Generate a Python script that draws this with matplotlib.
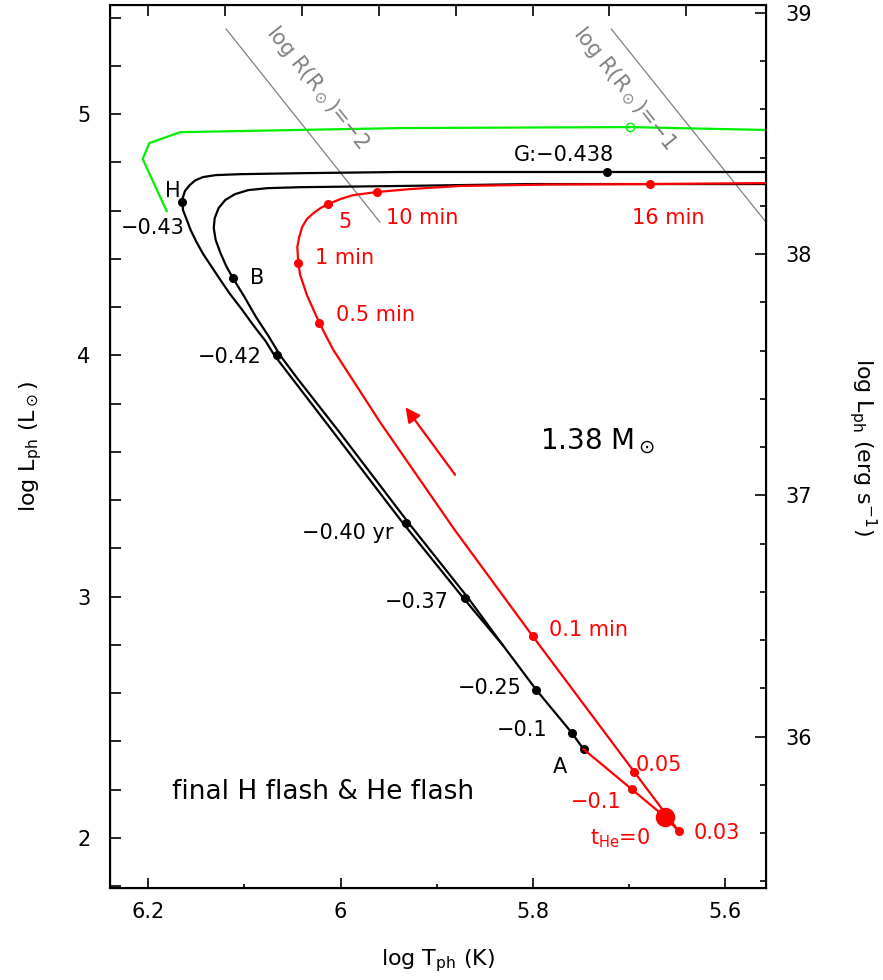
"""
HR-diagram style plot: final H flash & He flash track of a 1.38 Msun model
"""
import numpy as np
import matplotlib.pyplot as plt
from matplotlib.ticker import MultipleLocator, FixedLocator

# =============================
#  Data (log T_ph [K], log L_ph [Lsun])
# =============================
# green track
green_logT = [6.181, 6.206, 6.199, 6.167, 5.938, 5.699, 5.556]
green_logL = [4.598, 4.814, 4.880, 4.925, 4.942, 4.946, 4.934]
green_mark_logT = [5.699]
green_mark_logL = [4.946]

# black track through G and H (outer)
outer_logT = [5.557, 5.723, 5.938, 6.042, 6.104, 6.130, 6.143, 6.151, 6.157, 6.162,
              6.165, 6.164, 6.160, 6.156, 6.150, 6.143, 6.134, 6.125, 6.115, 6.103,
              6.091, 6.078, 6.069, 6.010, 5.935, 5.872, 5.831, 5.796, 5.759, 5.747]
outer_logL = [4.760, 4.760, 4.760, 4.755, 4.751, 4.747, 4.739, 4.726, 4.706, 4.681,
              4.644, 4.602, 4.561, 4.519, 4.470, 4.420, 4.366, 4.312, 4.254, 4.192,
              4.126, 4.059, 4.001, 3.695, 3.305, 2.994, 2.799, 2.613, 2.435, 2.368]

# black track through B (inner)
inner_logT = [5.557, 5.803, 5.938, 6.042, 6.076, 6.096, 6.110, 6.120, 6.127, 6.131,
              6.132, 6.130, 6.125, 6.119, 6.112, 6.100, 6.088, 6.075, 6.063, 6.046,
              6.002, 5.929, 5.867, 5.831]
inner_logL = [4.710, 4.710, 4.702, 4.697, 4.693, 4.685, 4.668, 4.644, 4.610, 4.569,
              4.528, 4.478, 4.424, 4.370, 4.320, 4.242, 4.159, 4.080, 4.001, 3.910,
              3.686, 3.305, 2.994, 2.799]

# black time marks
black_dot_logT = [5.723, 6.165, 6.112, 6.066, 5.932, 5.870, 5.796, 5.759, 5.747]
black_dot_logL = [4.760, 4.635, 4.320, 4.001, 3.305, 2.994, 2.613, 2.435, 2.368]

# red track (He flash), starting at A
red_logT = [5.747, 5.697, 5.662, 5.648, 5.694, 5.800, 5.881, 5.959, 5.975, 5.992,
            6.008, 6.022, 6.035, 6.042, 6.044, 6.045, 6.043, 6.040, 6.035, 6.028,
            6.021, 6.013, 6.000, 5.987, 5.962, 5.928, 5.876, 5.782, 5.678, 5.557]
red_logL = [2.368, 2.203, 2.087, 2.029, 2.273, 2.837, 3.276, 3.724, 3.823, 3.927,
            4.026, 4.134, 4.250, 4.333, 4.383, 4.449, 4.490, 4.532, 4.565, 4.590,
            4.610, 4.627, 4.648, 4.664, 4.677, 4.689, 4.702, 4.708, 4.710, 4.714]

# red time marks: -0.1, 0.03, 0.05, 0.1, 0.5, 1, 5, 10, 16 min
red_dot_logT = [5.697, 5.648, 5.694, 5.800, 6.022, 6.044, 6.013, 5.962, 5.678]
red_dot_logL = [2.203, 2.029, 2.273, 2.837, 4.134, 4.383, 4.627, 4.677, 4.710]
he_start_logT = [5.662]
he_start_logL = [2.087]

# constant-radius lines
rad_m2_logT = [6.119, 5.959]
rad_m2_logL = [5.352, 4.552]
rad_m1_logT = [5.718, 5.558]
rad_m1_logL = [5.352, 4.557]

# direction arrow (tail -> head)
arrow_logT = [5.879, 5.934]
arrow_logL = [3.496, 3.794]

# labels: (text, logT, logL)
black_labels = [
    ("G:−0.438", 5.767, 4.830),
    ("H", 6.175, 4.681),
    ("−0.43", 6.196, 4.528),
    ("B", 6.087, 4.320),
    ("−0.42", 6.115, 3.995),
    ("−0.40 yr", 5.993, 3.264),
    ("−0.37", 5.921, 2.978),
    ("−0.25", 5.845, 2.621),
    ("−0.1", 5.811, 2.447),
    ("A", 5.772, 2.294),
]
red_labels = [
    ("5", 5.995, 4.552),
    ("10 min", 5.915, 4.569),
    ("16 min", 5.659, 4.569),
    ("1 min", 5.996, 4.403),
    ("0.5 min", 5.964, 4.167),
    ("0.1 min", 5.742, 2.862),
    ("0.05", 5.669, 2.302),
    ("−0.1", 5.734, 2.149),
    (r"t$_{\rm He}$=0", 5.709, 2.000),
    ("0.03", 5.608, 2.020),
]

LOG_LSUN = 33.58  # log10(Lsun / erg s^-1)
XLIM = (6.24, 5.557)
YLIM = (1.793, 5.452)
top_ticks = [6.2, 6.12, 6.04, 5.96, 5.88, 5.80, 5.72, 5.64]

RED = "#ff0000"
GREEN = "#00f000"
GRAY = "#808080"

# =============================
#  Figure
# =============================
fig = plt.figure(figsize=(8.83, 9.8), dpi=100)
ax = fig.add_axes([0.1246, 0.0939, 0.7429, 0.9010])
ax.set_xlim(*XLIM)
ax.set_ylim(*YLIM)

# tracks
ax.plot(rad_m2_logT, rad_m2_logL, color=GRAY, lw=0.9)
ax.plot(rad_m1_logT, rad_m1_logL, color=GRAY, lw=0.9)
ax.plot(green_logT, green_logL, color=GREEN, lw=1.6)
ax.plot(green_mark_logT, green_mark_logL, "o", mfc="none", mec=GREEN, ms=6, mew=1.0)
ax.plot(outer_logT, outer_logL, color="black", lw=1.6)
ax.plot(inner_logT, inner_logL, color="black", lw=1.6)
ax.plot(black_dot_logT, black_dot_logL, "o", color="black", ms=5.5)
ax.plot(red_logT, red_logL, color=RED, lw=1.6, zorder=3)
ax.plot(red_dot_logT, red_dot_logL, "o", color=RED, ms=5.5, zorder=4)
ax.plot(he_start_logT, he_start_logL, "o", color=RED, ms=13, zorder=4)

ax.annotate("", xy=(arrow_logT[1], arrow_logL[1]), xytext=(arrow_logT[0], arrow_logL[0]),
            arrowprops=dict(arrowstyle="-|>", color=RED, lw=1.6, mutation_scale=22))

# labels
for txt, x, y in black_labels:
    ax.text(x, y, txt, color="black", fontsize=15, ha="center", va="center")
for txt, x, y in red_labels:
    ax.text(x, y, txt, color=RED, fontsize=15, ha="center", va="center")

ax.text(5.732, 3.645, r"1.38 M$_\odot$", fontsize=20, ha="center", va="center")
ax.text(6.018, 2.190, "final H flash & He flash", fontsize=19, ha="center", va="center")

# radius labels, rotated along their lines
for lt, ll, txt, x, y in [(rad_m2_logT, rad_m2_logL, r"log R(R$_\odot$)=−2", 6.024, 5.108),
                          (rad_m1_logT, rad_m1_logL, r"log R(R$_\odot$)=−1", 5.704, 5.108)]:
    p = ax.transData.transform(np.column_stack([lt, ll]))
    ang = np.degrees(np.arctan2(p[1, 1] - p[0, 1], p[1, 0] - p[0, 0]))
    ax.text(x, y, txt, color=GRAY, fontsize=15, rotation=ang,
            rotation_mode="anchor", ha="center", va="center")

# =============================
#  Axes / ticks
# =============================
for s in ax.spines.values():
    s.set_linewidth(1.5)

ax.xaxis.set_major_locator(MultipleLocator(0.2))
ax.xaxis.set_minor_locator(MultipleLocator(0.1))
ax.xaxis.set_major_formatter(plt.FuncFormatter(lambda v, _: f"{v:g}"))
ax.yaxis.set_major_locator(MultipleLocator(1))
ax.yaxis.set_minor_locator(MultipleLocator(0.2))
ax.tick_params(axis="x", which="major", direction="in", length=7.5, width=1.2,
               labelsize=15, pad=10)
ax.tick_params(axis="x", which="minor", direction="in", length=3, width=1.2)
ax.tick_params(axis="y", which="both", direction="in", length=8, width=1.2,
               labelsize=15, pad=14)

ax_top = ax.twiny()
ax_top.set_xlim(*XLIM)
ax_top.xaxis.set_major_locator(FixedLocator(top_ticks))
ax_top.tick_params(axis="x", which="major", direction="in", length=8, width=1.2,
                   labeltop=False)
ax_top.tick_params(axis="x", which="minor", length=0)

ax_r = ax.twinx()
ax_r.set_ylim(YLIM[0] + LOG_LSUN, YLIM[1] + LOG_LSUN)
ax_r.yaxis.set_major_locator(MultipleLocator(1))
ax_r.yaxis.set_minor_locator(MultipleLocator(0.2))
ax_r.tick_params(axis="y", which="major", direction="in", length=8, width=1.2,
                 labelsize=15, pad=14)
ax_r.tick_params(axis="y", which="minor", direction="in", length=4.5, width=1.2)

ax.set_xlabel(r"log T$_{\rm ph}$ (K)", fontsize=16, labelpad=18)
ax.set_ylabel(r"log L$_{\rm ph}$ (L$_\odot$)", fontsize=16, labelpad=24)
ax_r.set_ylabel(r"log L$_{\rm ph}$ (erg s$^{-1}$)", fontsize=16, rotation=-90, labelpad=48)

fig.savefig("out.png", dpi=100)
